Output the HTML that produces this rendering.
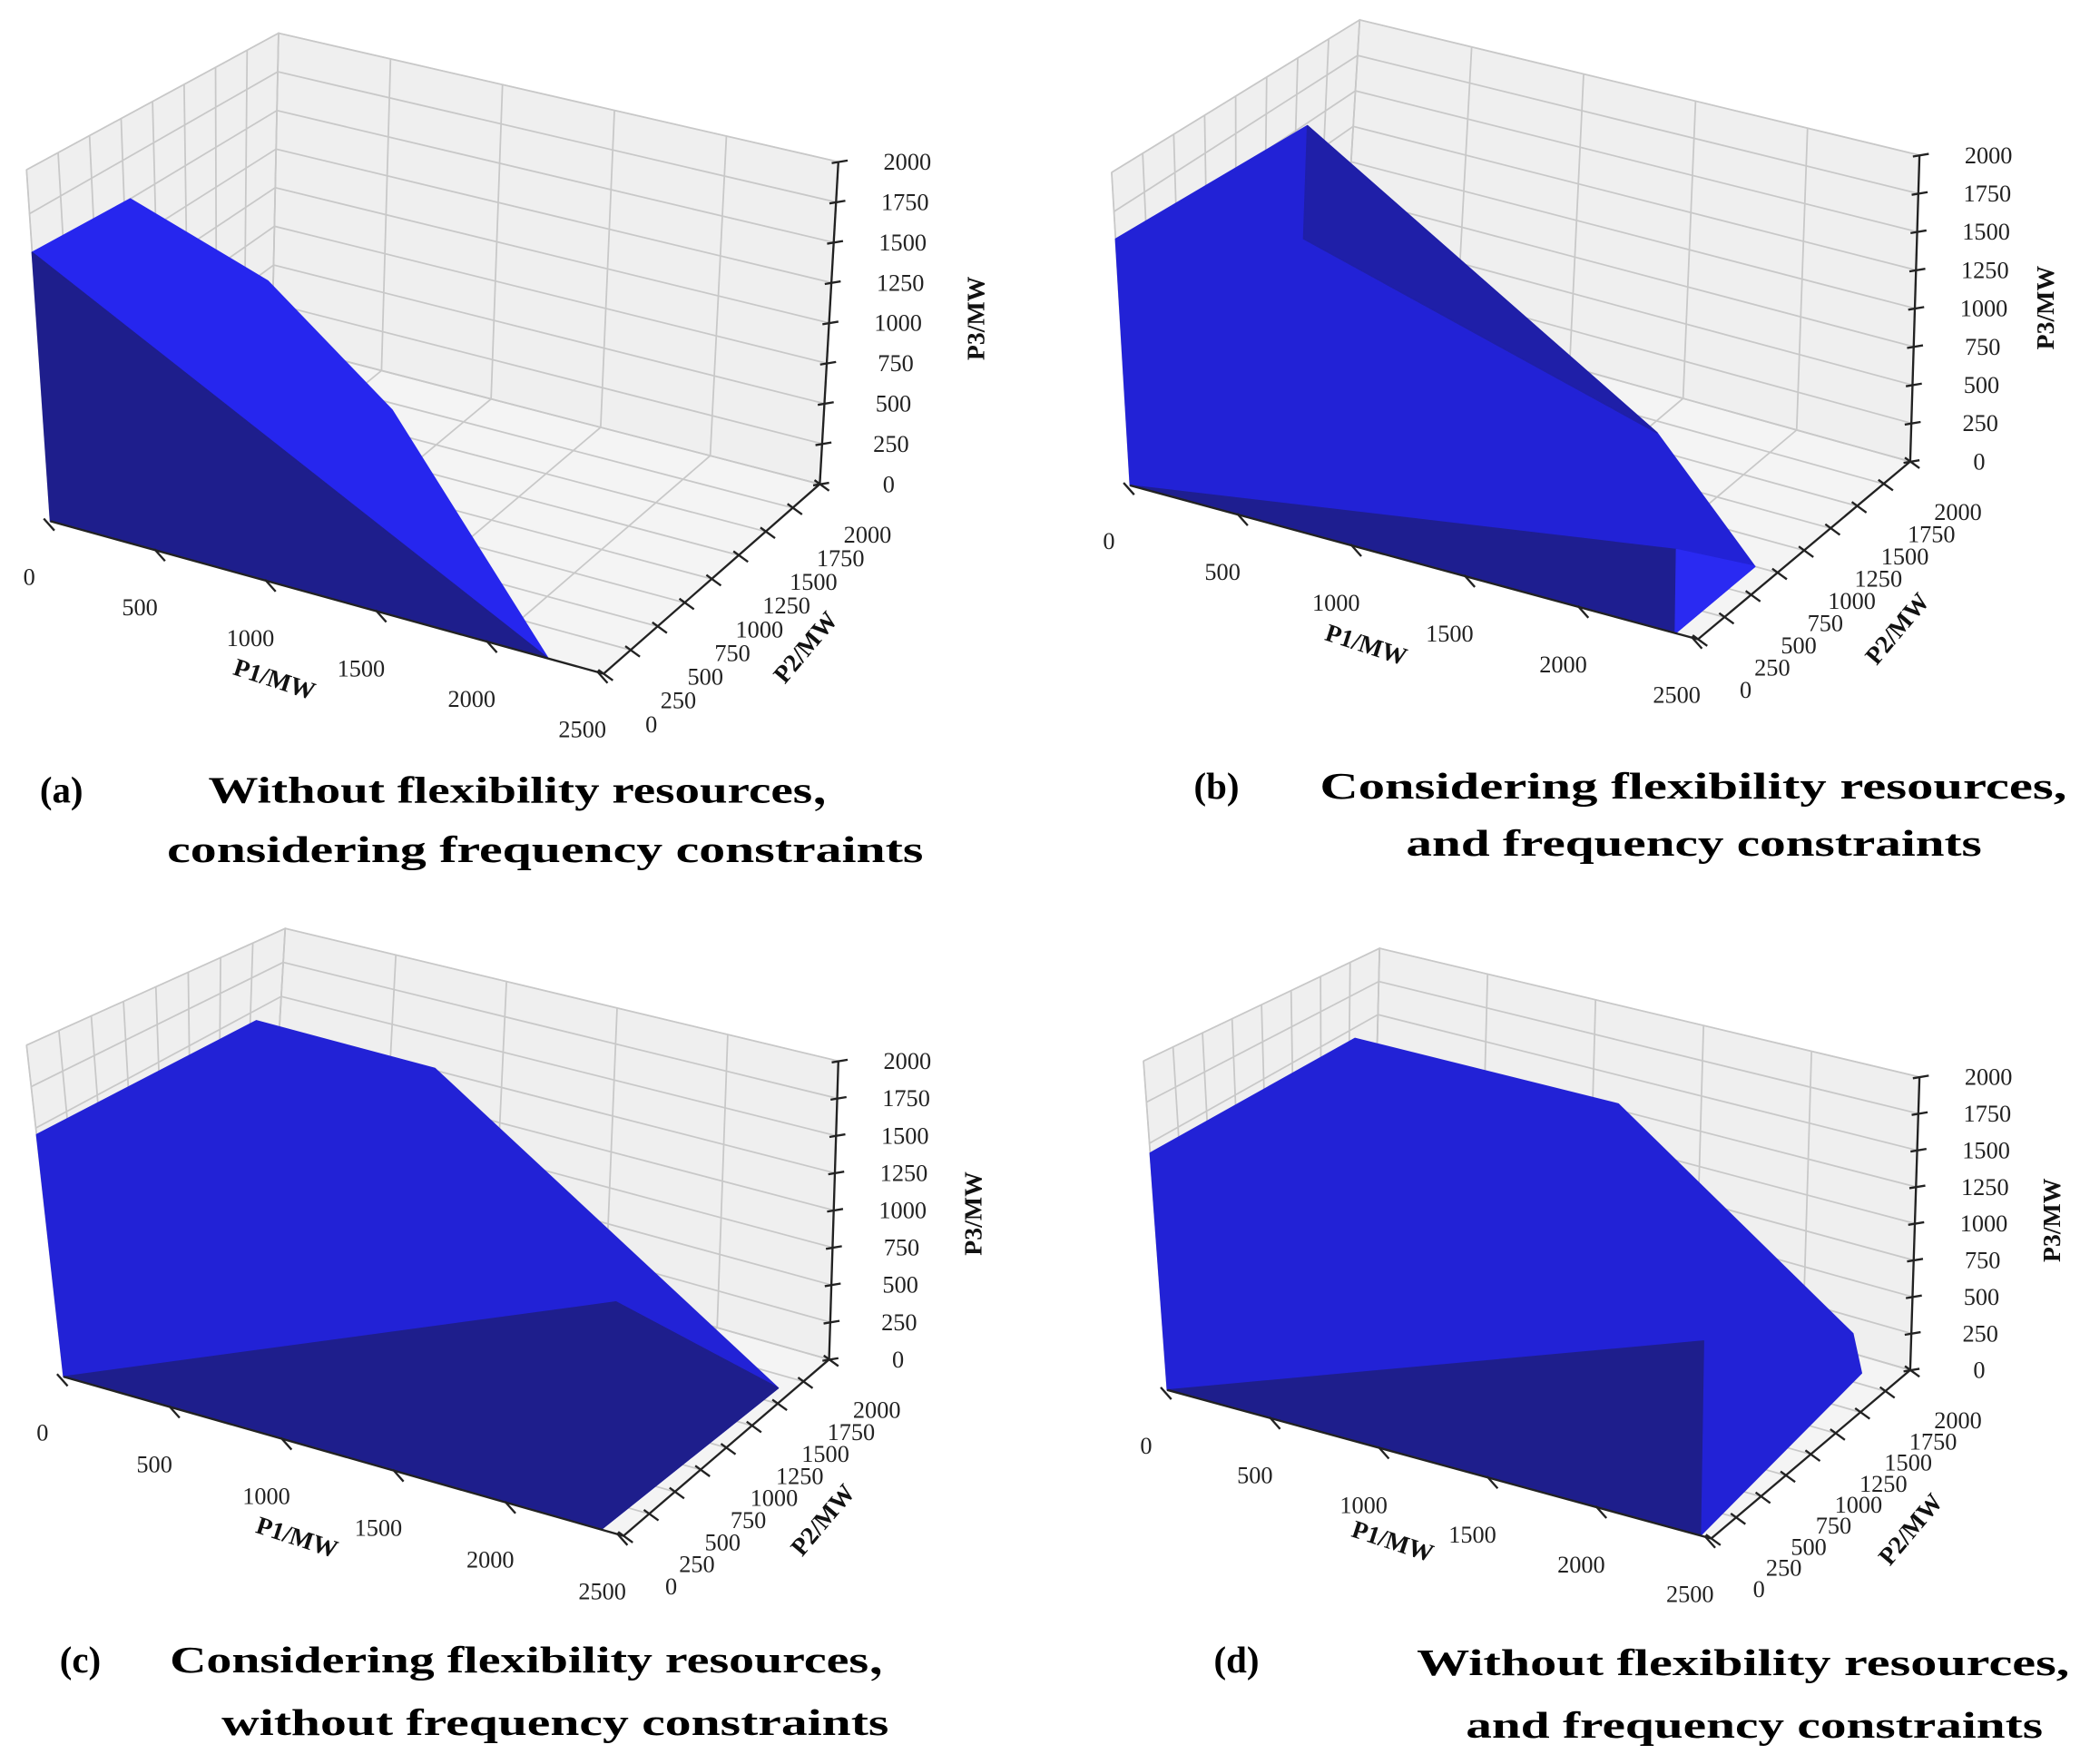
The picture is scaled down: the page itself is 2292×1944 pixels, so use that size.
<!DOCTYPE html>
<html><head><meta charset="utf-8"><style>
html,body{margin:0;padding:0;background:#fff;}
svg{display:block;}
.tk{font-family:"Liberation Serif",serif;font-size:18px;fill:#222;}
.ttl{font-family:"Liberation Serif",serif;font-size:19px;font-weight:bold;fill:#111;}
.cap{font-family:"Liberation Serif","Noto Serif CJK SC",serif;font-size:28px;font-weight:bold;fill:#000;}
</style></head><body>
<svg id="fig" width="2292" height="1944" viewBox="0 0 1568 1330" preserveAspectRatio="none" xmlns="http://www.w3.org/2000/svg">
<g id="layer"></g>
<g>
<text class="cap" x="30" y="605">(a)</text>
<text class="cap" x="157" y="605" textLength="493" lengthAdjust="spacingAndGlyphs">Without flexibility resources，</text>
<text class="cap" x="126" y="650" textLength="570" lengthAdjust="spacingAndGlyphs">considering frequency constraints</text>
<text class="cap" x="900" y="602">(b)</text>
<text class="cap" x="995" y="602" textLength="563" lengthAdjust="spacingAndGlyphs">Considering flexibility resources,</text>
<text class="cap" x="1060" y="645" textLength="434" lengthAdjust="spacingAndGlyphs">and frequency constraints</text>
<text class="cap" x="45" y="1261">(c)</text>
<text class="cap" x="128" y="1261" textLength="565" lengthAdjust="spacingAndGlyphs">Considering flexibility resources，</text>
<text class="cap" x="167" y="1308" textLength="503" lengthAdjust="spacingAndGlyphs">without frequency constraints</text>
<text class="cap" x="915" y="1261">(d)</text>
<text class="cap" x="1068" y="1263" textLength="492" lengthAdjust="spacingAndGlyphs">Without flexibility resources,</text>
<text class="cap" x="1105" y="1310" textLength="435" lengthAdjust="spacingAndGlyphs">and frequency constraints</text>
</g>
</svg>
<script>
const P1_TICKS=[0,500,1000,1500,2000,2500];
const P2_TICKS=[0,250,500,750,1000,1250,1500,1750,2000];
const P3_TICKS=[0,250,500,750,1000,1250,1500,1750,2000];
const VERTS_A=[[0,0,0],[2250,0,0],[0,0,1530],[0,800,1500],[600,800,1200],[1250,600,750]];
const VERTS_B=[[0,0,0],[2400,0,0],[2400,750,0],[0,0,1575],[0,1600,1480],[1800,1100,400],[2400,0,450],[0,1600,700]];
const VERTS_C=[[0,0,0],[2400,0,0],[2500,1500,100],[0,0,1460],[0,1800,1420],[800,1800,1400],[2450,0,1300]];
const VERTS_D=[[0,0,0],[2450,0,0],[2500,1500,250],[2500,1400,550],[1215,1800,1420],[0,1800,1420],[0,0,1440],[2450,0,1050]];
const FACES_A=[[[2,3,4,5,1],'#2626ee'],[[0,1,2],'#1e1e8c']];
const FACES_B=[[[0,3,4,5,2,1],'#2222d6'],[[4,7,5],'#1f1fa8'],[[0,1,6],'#1e1e90'],[[6,2,1],'#2a2af2']];
const FACES_C=[[[0,3,4,5,2,1],'#2222d6'],[[0,6,2,1],'#1e1e8c']];
const FACES_D=[[[0,6,5,4,3,2,1],'#2222d6'],[[0,7,1],'#1e1e8c']];
const XMAX=2500,YMAX=2000,ZMAX=2000;

const panels=[
 {id:'a',verts:VERTS_A,faces:FACES_A,c:{'000':[38,393],'100':[455,508],'010':[205,258],'110':[618,365],'001':[20,128],'101':[462,218],'011':[210,25],'111':[632,122]},t1:[205,518,18],t2:[612,492,-50],t3:[742,240]},
 {id:'b',verts:VERTS_B,faces:FACES_B,c:{'000':[852,366],'100':[1280,482],'010':[1012,229],'110':[1440,348],'001':[838,130],'101':[1285,200],'011':[1025,15],'111':[1447,117]},t1:[1028,492,18],t2:[1435,478,-50],t3:[1548,232]},
 {id:'c',verts:VERTS_C,faces:FACES_C,c:{'000':[48,1038],'100':[470,1158],'010':[203,905],'110':[625,1025],'001':[20,788],'101':[475,890],'011':[215,700],'111':[632,800]},t1:[222,1165,18],t2:[625,1150,-50],t3:[740,915]},
 {id:'d',verts:VERTS_D,faces:FACES_D,c:{'000':[880,1048],'100':[1290,1160],'010':[1035,915],'110':[1440,1033],'001':[862,800],'101':[1295,880],'011':[1040,715],'111':[1447,812]},t1:[1048,1168,18],t2:[1445,1157,-50],t3:[1553,920]}
];
function lerp(a,b,t){return [a[0]+(b[0]-a[0])*t,a[1]+(b[1]-a[1])*t];}
function proj(p,x,y,z){const c=p.c,u=x/XMAX,v=y/YMAX,w=z/ZMAX;
 const b0=lerp(c['000'],c['100'],u),b1=lerp(c['010'],c['110'],u),t0=lerp(c['001'],c['101'],u),t1=lerp(c['011'],c['111'],u);
 return lerp(lerp(b0,b1,v),lerp(t0,t1,v),w);}
const NS='http://www.w3.org/2000/svg';
const layer=document.getElementById('layer');
function mk(tag,attrs,parent){const e=document.createElementNS(NS,tag);for(const k in attrs)e.setAttribute(k,attrs[k]);parent.appendChild(e);return e;}
function pts(a){return a.map(q=>q[0].toFixed(1)+','+q[1].toFixed(1)).join(' ');}
panels.forEach(p=>{
 const g=mk('g',{},layer);
 
 
 const P=(x,y,z)=>proj(p,x,y,z);
 const floor=mk('polygon',{points:pts([P(0,0,0),P(XMAX,0,0),P(XMAX,YMAX,0),P(0,YMAX,0)]),fill:'#f4f4f4',stroke:'#d0d0d0'},g);
 
 
 const left=mk('polygon',{points:pts([P(0,0,0),P(0,YMAX,0),P(0,YMAX,ZMAX),P(0,0,ZMAX)]),fill:'#efefef',stroke:'#d0d0d0'},g);
 
 
 const back=mk('polygon',{points:pts([P(0,YMAX,0),P(XMAX,YMAX,0),P(XMAX,YMAX,ZMAX),P(0,YMAX,ZMAX)]),fill:'#efefef',stroke:'#d0d0d0'},g);
 
 
 const gs={stroke:'#c8c8c8','stroke-width':1.2,fill:'none'};
 P1_TICKS.forEach(x=>{
  const l1=mk('polyline',Object.assign({points:pts([P(x,0,0),P(x,YMAX,0),P(x,YMAX,ZMAX)])},gs),g);
  
  
 });
 P2_TICKS.forEach(y=>{
  const l2=mk('polyline',Object.assign({points:pts([P(XMAX,y,0),P(0,y,0),P(0,y,ZMAX)])},gs),g);
  
  
 });
 P3_TICKS.forEach(z=>{
  const l3=mk('polyline',Object.assign({points:pts([P(0,0,z),P(0,YMAX,z),P(XMAX,YMAX,z)])},gs),g);
  
  
 });
 p.faces.forEach((f,i)=>{
  const poly=mk('polygon',{points:pts(f[0].map(k=>P(...p.verts[k]))),fill:f[1],stroke:f[1],'stroke-width':1,'stroke-linejoin':'round'},g);
  
  
 });
 const ax={stroke:'#222','stroke-width':1.6};
 let a=P(0,0,0),b=P(XMAX,0,0);
 const x1=mk('line',Object.assign({x1:a[0],y1:a[1],x2:b[0],y2:b[1]},ax),g);
 
 
 a=P(XMAX,0,0);b=P(XMAX,YMAX,0);
 const x2=mk('line',Object.assign({x1:a[0],y1:a[1],x2:b[0],y2:b[1]},ax),g);
 
 
 a=P(XMAX,YMAX,0);b=P(XMAX,YMAX,ZMAX);
 const x3=mk('line',Object.assign({x1:a[0],y1:a[1],x2:b[0],y2:b[1]},ax),g);
 
 
 P1_TICKS.forEach(x=>{const q=P(x,0,0);
  const t=mk('line',Object.assign({x1:q[0]-5,y1:q[1]-2,x2:q[0]+3,y2:q[1]+7},ax),g);
  
  
  const tx=mk('text',{class:'tk',x:q[0]-16,y:q[1]+48,'text-anchor':'middle'},g);tx.textContent=x;
  
  
 });
 P2_TICKS.forEach(y=>{const q=P(XMAX,y,0);
  const t=mk('line',Object.assign({x1:q[0]-4,y1:q[1]-3,x2:q[0]+7,y2:q[1]+5},ax),g);
  
  
  const tx=mk('text',{class:'tk',x:q[0]+36,y:q[1]+44,'text-anchor':'middle'},g);tx.textContent=y;
  
  
 });
 P3_TICKS.forEach(z=>{const q=P(XMAX,YMAX,z);
  const t=mk('line',Object.assign({x1:q[0]-5,y1:q[1]+1,x2:q[0]+7,y2:q[1]-1},ax),g);
  
  
  const tx=mk('text',{class:'tk',x:q[0]+52,y:q[1]+6,'text-anchor':'middle'},g);tx.textContent=z;
  
  
 });
 const t1=mk('text',{class:'ttl',x:p.t1[0],y:p.t1[1],'text-anchor':'middle',transform:`rotate(${p.t1[2]} ${p.t1[0]} ${p.t1[1]})`},g);t1.textContent='P1/MW';
 
 
 const t2=mk('text',{class:'ttl',x:p.t2[0],y:p.t2[1],'text-anchor':'middle',transform:`rotate(${p.t2[2]} ${p.t2[0]} ${p.t2[1]})`},g);t2.textContent='P2/MW';
 
 
 const t3=mk('text',{class:'ttl',x:p.t3[0],y:p.t3[1],'text-anchor':'middle',transform:`rotate(-90 ${p.t3[0]} ${p.t3[1]})`},g);t3.textContent='P3/MW';
 
 
});
</script>
</body></html>
